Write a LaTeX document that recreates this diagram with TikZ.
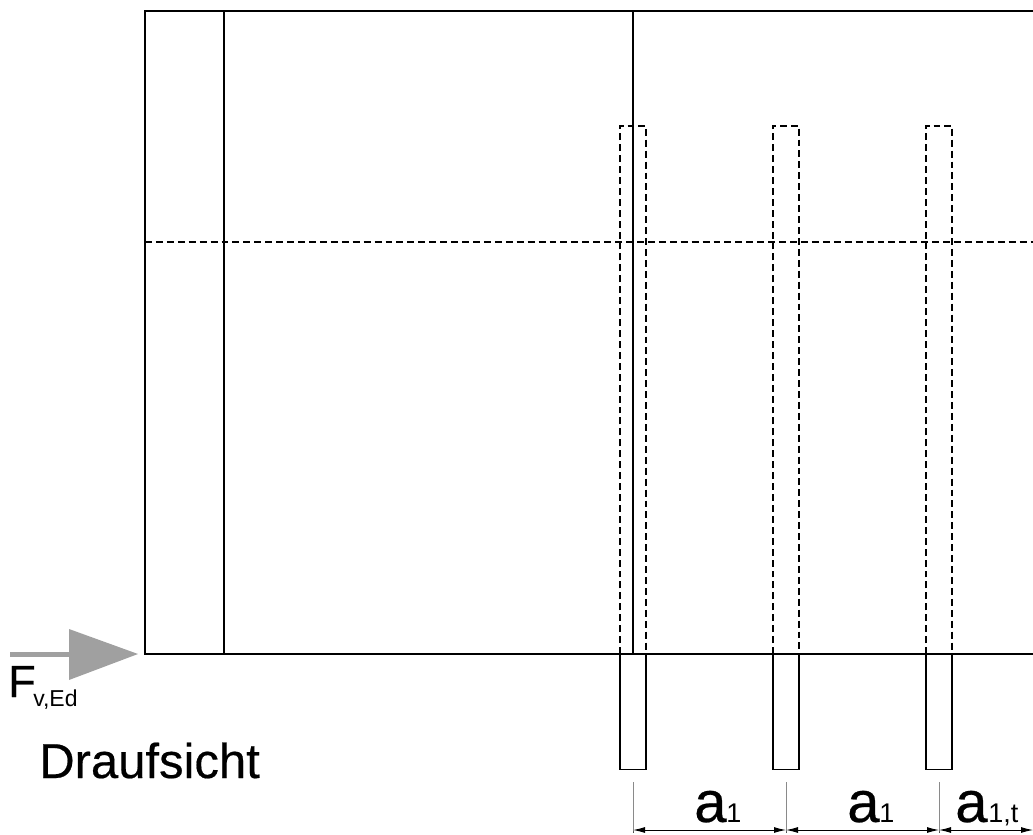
\documentclass[tikz,border=0pt]{standalone}
\usepackage{fontspec}
\setmainfont{Liberation Sans}
\newfontfamily\heavyfont[FakeBold=0.4]{Liberation Sans}
\usetikzlibrary{arrows.meta}
\definecolor{force}{HTML}{A0A0A0}
\tikzset{
  wall/.style={draw=black,line width=1.7pt},
  pin/.style={draw=black,line width=1.4pt},
  thinwall/.style={draw=black,line width=1pt},
  hidden/.style={draw=black,line width=1.5pt,dash pattern=on 5.2pt off 3pt},
  extline/.style={draw=black!70,line width=0.6pt},
  dimline/.style={draw=black,line width=0.7pt,{Latex[length=9pt,width=4.5pt]}-{Latex[length=9pt,width=4.5pt]}},
  lbl/.style={inner sep=0pt,anchor=base west},
}
\newcommand{\fpx}[1]{\fontsize{\dimexpr #1pt*3/4\relax}{\dimexpr #1pt*3/4\relax}\selectfont}
\begin{document}
\begin{tikzpicture}[x=0.75pt,y=-0.75pt]
\useasboundingbox (0,0) rectangle (1033,835);
% main outline
\draw[wall] (1033,11) -- (145,11) -- (145,654) -- (1033,654);
\draw[thinwall] (224,11) -- (224,654);
\draw[thinwall] (633,11) -- (633,654);
\draw[hidden] (145,241.5) -- (1033,241.5);
% fasteners
\foreach \xa/\xb in {620.3/646.1,773.2/799.2,926.3/952.2}{
  \draw[hidden] (\xa,654) -- (\xa,125.5) -- (\xb,125.5) -- (\xb,654);
  \draw[pin] (\xa,654) -- (\xa,769.5) -- (\xb,769.5) -- (\xb,654);
}
% force arrow
\fill[force] (10,651.5) rectangle (72,656.5);
\fill[force] (69,629) -- (138,654) -- (69,680) -- cycle;
% dimension
\coordinate (e1) at (633,830); \coordinate (e2) at (786,830);
\coordinate (e3) at (939,830); \coordinate (e4) at (1033,830);
\draw[extline] (633,782) -- (e1) -- (633,833);
\draw[extline] (786,782) -- (e2) -- (786,833);
\draw[extline] (939,782) -- (e3) -- (939,833);
\draw[dimline] (e1) -- (e2);
\draw[dimline] (e2) -- (e3);
\draw[dimline] (e3) -- (e4);
% labels
\node[lbl] (f) at (8,697) {\heavyfont\fpx{45}F};
\node[lbl] (fs) at (33,706) {\fpx{23}v,Ed};
\node[lbl] (dr) at (39,778) {\heavyfont\fpx{49}Draufsicht};
\node[lbl] (a1) at (694,822) {\heavyfont\fpx{58}a};
\node[lbl] (a1s) at (726,822) {\fpx{27}1};
\node[lbl] (a2) at (847,822) {\heavyfont\fpx{58}a};
\node[lbl] (a2s) at (879,822) {\fpx{27}1};
\node[lbl] (a3) at (955,822) {\heavyfont\fpx{58}a};
\node[lbl] (a3s) at (988,822) {\fpx{27}1,t};
\end{tikzpicture}
\end{document}
